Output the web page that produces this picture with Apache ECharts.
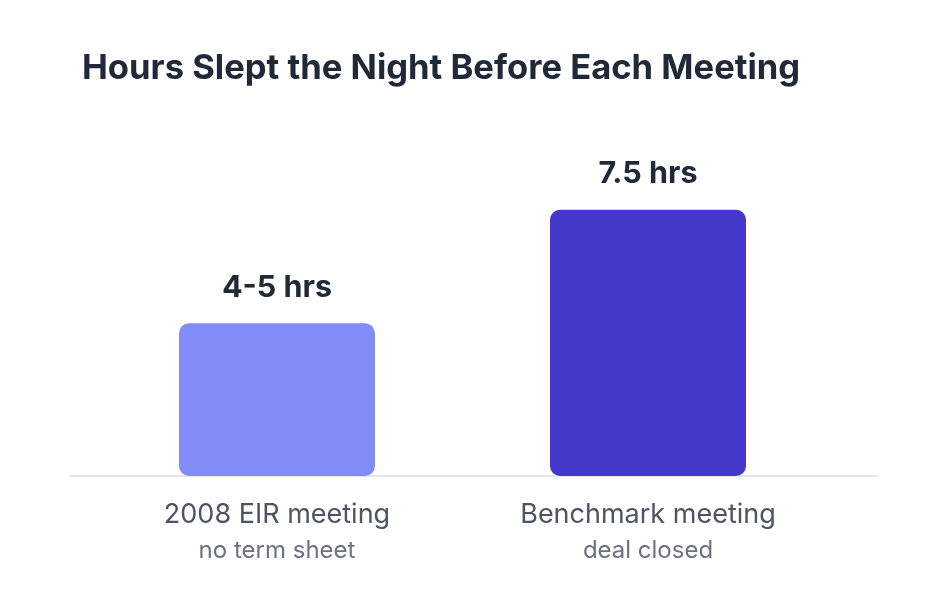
<!DOCTYPE html>
<html>
<head>
    <meta charset="utf-8"/>
    <title>Hours Slept</title>
    <script src="https://cdn.jsdelivr.net/npm/echarts@6/dist/echarts.min.js"></script>
    <style>
        html, body { margin: 0; padding: 0; background: #ffffff; }
        #chart { width: 946px; height: 590px; }
    </style>
</head>
<body>
<div id="chart"></div>
<script type="text/javascript">
    // data
    let meetings = ['2008 EIR meeting', 'Benchmark meeting'];
    let outcomes = ['no term sheet', 'deal closed'];
    let hoursSlept = [4.3, 7.5];
    let valueLabels = ['4-5 hrs', '7.5 hrs'];
    let barColors = ['#818cf8', '#4338ca'];

    let fontFamily = 'Inter, "Noto Sans", sans-serif';

    let chart = echarts.init(document.getElementById('chart'));
    chart.setOption({
        animation: false,
        title: {
            text: 'Hours Slept the Night Before Each Meeting',
            left: 77,
            top: 46,
            textStyle: {
                fontFamily: fontFamily,
                fontSize: 34.6,
                fontWeight: 700,
                color: '#1f2937'
            }
        },
        grid: [
            {left: 91.5, right: 112.5, top: 192, bottom: 114},
            {left: 70, right: 69, top: 192, bottom: 114}
        ],
        xAxis: [
            {
                type: 'category',
                gridIndex: 0,
                data: meetings,
                axisLine: {show: false},
                axisTick: {show: false},
                axisLabel: {
                    margin: 21,
                    interval: 0,
                    formatter: function (value, idx) {
                        return '{a|' + value + '}\n{b|' + outcomes[idx] + '}';
                    },
                    rich: {
                        a: {fontFamily: fontFamily, fontSize: 27, color: '#4b5563', lineHeight: 36},
                        b: {fontFamily: fontFamily, fontSize: 24, color: '#6b7280', lineHeight: 36}
                    }
                }
            },
            {
                type: 'category',
                gridIndex: 1,
                data: [''],
                axisLine: {show: true, lineStyle: {color: '#e5e7eb', width: 2}},
                axisTick: {show: false},
                axisLabel: {show: false}
            }
        ],
        yAxis: [
            {type: 'value', gridIndex: 0, min: 0, max: 8, show: false},
            {type: 'value', gridIndex: 1, min: 0, max: 8, show: false}
        ],
        series: [
            {
                type: 'bar',
                xAxisIndex: 0,
                yAxisIndex: 0,
                barWidth: 196,
                z: 3,
                data: hoursSlept.map(function (v, i) {
                    return {value: v, itemStyle: {color: barColors[i], borderRadius: 10}};
                }),
                label: {
                    show: true,
                    position: 'top',
                    distance: 20,
                    formatter: function (p) { return valueLabels[p.dataIndex]; },
                    fontFamily: fontFamily,
                    fontSize: 30.5,
                    fontWeight: 700,
                    color: '#1f2937'
                }
            }
        ]
    });
</script>
</body>
</html>
